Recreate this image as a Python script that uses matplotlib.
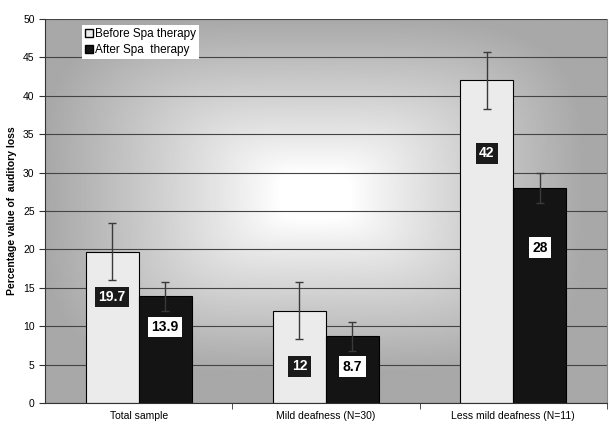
import matplotlib.pyplot as plt
import numpy as np

plt.rcParams['font.family'] = ['Liberation Sans', 'DejaVu Sans']

# data
categories = ['Total sample', 'Mild deafness (N=30)', 'Less mild deafness (N=11)']
before = [19.7, 12.0, 42.0]
after = [13.9, 8.7, 28.0]
before_err = [3.7, 3.7, 3.7]
after_err = [1.9, 1.9, 1.9]
before_labels = ['19.7', '12', '42']
after_labels = ['13.9', '8.7', '28']
before_label_y = [13.8, 4.8, 32.5]
after_label_y = [9.9, 4.7, 20.2]

fig = plt.figure(figsize=(6.1, 4.34), dpi=100)
ax = fig.add_axes([0.0738, 0.0714, 0.921, 0.8848])

# "from centre" gradient background: white core, grey towards the edges
gx = np.linspace(0, 1, 400)
gy = np.linspace(0, 1, 300)
X, Y = np.meshgrid(gx, gy)
dx = np.abs(X - 0.48) / 0.52
dy = np.abs(Y - 0.54) / 0.50
t = (dx ** 4 + dy ** 4) ** 0.25
shade = 1 - 0.34 * np.clip((t - 0.12) / 0.8, 0, 1) ** 0.9
ax.imshow(shade, cmap='gray', vmin=0, vmax=1, extent=[-0.5, 2.5, 0, 50],
          origin='lower', aspect='auto', zorder=0, interpolation='bilinear')

x = np.arange(len(categories))
w = 0.283
ax.bar(x - w / 2, before, w, color='#ebebeb', edgecolor='black', linewidth=0.8, zorder=2)
ax.bar(x + w / 2, after, w, color='#141414', edgecolor='black', linewidth=0.8, zorder=2)
ax.errorbar(x - w / 2, before, yerr=before_err, fmt='none', ecolor='#3a3a3a',
            elinewidth=1.0, capsize=3, capthick=1.0, zorder=3)
ax.errorbar(x + w / 2, after, yerr=after_err, fmt='none', ecolor='#3a3a3a',
            elinewidth=1.0, capsize=3, capthick=1.0, zorder=3)

for i in range(len(categories)):
    ax.text(x[i] - w / 2, before_label_y[i], before_labels[i], ha='center', va='center',
            fontsize=10, fontweight='bold', color='white', zorder=4,
            bbox=dict(boxstyle='square,pad=0.25', fc='#1a1a1a', ec='none'))
    ax.text(x[i] + w / 2, after_label_y[i], after_labels[i], ha='center', va='center',
            fontsize=10, fontweight='bold', color='black', zorder=4,
            bbox=dict(boxstyle='square,pad=0.25', fc='white', ec='none'))

ax.set_xlim(-0.5, 2.5)
ax.set_ylim(0, 50)
ax.set_yticks(np.arange(0, 51, 5))
ax.yaxis.grid(True, color='#444444', linewidth=0.8, zorder=1)
ax.set_axisbelow(True)
ax.tick_params(axis='y', labelsize=7.5, length=4, direction='out', colors='#333333', labelcolor='black')

ax.set_xticks(x)
ax.set_xticklabels(categories, fontsize=7.5)
ax.tick_params(axis='x', length=0, pad=6)
ax.set_xticks([0.5, 1.5, 2.5], minor=True)
ax.tick_params(axis='x', which='minor', length=4, direction='out', colors='#333333')

ax.spines['top'].set_visible(False)
ax.spines['right'].set_color('#888888')
ax.spines['left'].set_color('#333333')
ax.spines['bottom'].set_color('#333333')

ax.set_ylabel('Percentage value of  auditory loss', fontsize=7.5, fontweight='bold', labelpad=4)

h1 = plt.Line2D([], [], marker='s', linestyle='none', markerfacecolor='#ebebeb',
                markeredgecolor='black', markersize=6)
h2 = plt.Line2D([], [], marker='s', linestyle='none', markerfacecolor='#141414',
                markeredgecolor='black', markersize=6)
leg = ax.legend([h1, h2], ['Before Spa therapy', 'After Spa  therapy'], loc='upper left',
                bbox_to_anchor=(0.065, 0.985), frameon=True, fancybox=False,
                fontsize=8.5, handlelength=0.6, handletextpad=0.2, borderpad=0.3,
                labelspacing=0.3, borderaxespad=0)
leg.get_frame().set_facecolor('white')
leg.get_frame().set_edgecolor('none')
leg.get_frame().set_alpha(1)

fig.savefig('out.png', dpi=100)
